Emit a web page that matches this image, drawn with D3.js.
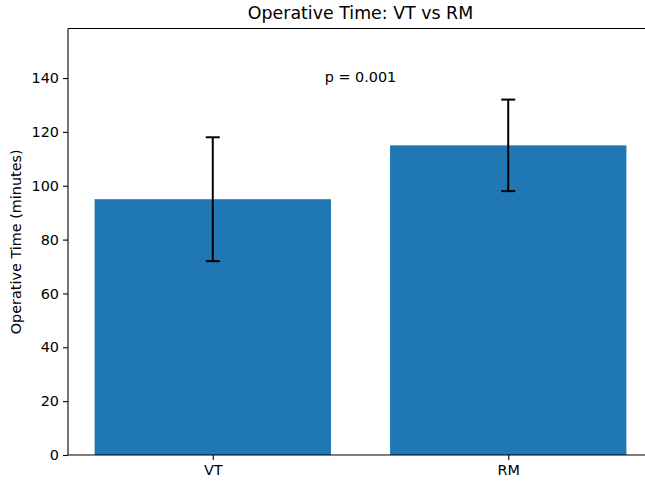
<!DOCTYPE html>
<html><head><meta charset="utf-8">
<script src="https://cdn.jsdelivr.net/npm/d3@7"></script>
<style>
html,body{margin:0;padding:0;background:#fff;}
svg{display:block;font-family:"DejaVu Sans",sans-serif;}
</style></head>
<body>
<script>
const categories = ["VT", "RM"];
const means = [95, 115];
const errors = [23, 17];
const yTicks = [0, 20, 40, 60, 80, 100, 120, 140];
const title = "Operative Time: VT vs RM";
const yLabel = "Operative Time (minutes)";
const pText = "p = 0.001";

const W = 645, H = 484;
const mLeft = 68, mRight = 653, mTop = 28.5, mBottom = 455;
const FS = 14.4, TFS = 17.4;
const svg = d3.select("body").append("svg").attr("width", W).attr("height", H);

const yMax = d3.max(means.map((m, i) => m + errors[i])) * 1.2;
const y = d3.scaleLinear().domain([0, yMax]).range([mBottom, mTop]);
const x = d3.scaleLinear().domain([-0.49, categories.length - 1 + 0.49]).range([mLeft, mRight]);
const barW = 0.8;

// bars
svg.append("g").selectAll("rect").data(means).join("rect")
  .attr("x", (d, i) => x(i - barW / 2))
  .attr("width", (d, i) => x(i + barW / 2) - x(i - barW / 2))
  .attr("y", d => y(d))
  .attr("height", d => y(0) - y(d))
  .attr("fill", "#1f77b4");

// error bars
const eb = svg.append("g").attr("stroke", "#000").attr("stroke-width", 2);
means.forEach((m, i) => {
  const cx = x(i);
  eb.append("line").attr("x1", cx).attr("x2", cx).attr("y1", y(m - errors[i])).attr("y2", y(m + errors[i]));
  [m - errors[i], m + errors[i]].forEach(v => {
    eb.append("line").attr("x1", cx - 7).attr("x2", cx + 7).attr("y1", y(v)).attr("y2", y(v));
  });
});

// y axis
const yAxis = d3.axisLeft(y).tickValues(yTicks).tickSize(5).tickPadding(4);
const gy = svg.append("g").attr("transform", `translate(${mLeft},0)`).call(yAxis);
gy.select(".domain").remove();
gy.selectAll("text").attr("font-size", FS).attr("fill", "#000").attr("font-family", "DejaVu Sans");
gy.selectAll("line").attr("stroke", "#000").attr("stroke-width", 1.1);

// x axis
const xAxis = d3.axisBottom(x).tickValues(categories.map((c, i) => i)).tickFormat((d) => categories[d]).tickSize(5).tickPadding(5);
const gx = svg.append("g").attr("transform", `translate(0,${mBottom})`).call(xAxis);
gx.select(".domain").remove();
gx.selectAll("text").attr("font-size", FS).attr("fill", "#000").attr("font-family", "DejaVu Sans");
gx.selectAll("line").attr("stroke", "#000").attr("stroke-width", 1.1);

// spines
const sp = svg.append("g").attr("stroke", "#000").attr("stroke-width", 1.1).attr("fill", "none");
sp.append("line").attr("x1", mLeft).attr("x2", mLeft).attr("y1", mTop).attr("y2", mBottom);
sp.append("line").attr("x1", mLeft).attr("x2", mRight).attr("y1", mBottom).attr("y2", mBottom);
sp.append("line").attr("x1", mLeft).attr("x2", mRight).attr("y1", mTop).attr("y2", mTop);
sp.append("line").attr("x1", mRight).attr("x2", mRight).attr("y1", mTop).attr("y2", mBottom);

// p text
const pY = d3.max(means.map((m, i) => m + errors[i])) * 1.05;
svg.append("text").attr("x", x(0.5)).attr("y", y(pY)).attr("text-anchor", "middle")
  .attr("font-size", FS).attr("fill", "#000").text(pText);

// title
svg.append("text").attr("x", (mLeft + mRight) / 2).attr("y", 19).attr("text-anchor", "middle")
  .attr("font-size", TFS).attr("fill", "#000").text(title);

// y label
svg.append("text").attr("transform", `translate(21,${(mTop + mBottom) / 2}) rotate(-90)`)
  .attr("text-anchor", "middle").attr("font-size", FS).attr("fill", "#000").text(yLabel);
</script>
</body></html>
